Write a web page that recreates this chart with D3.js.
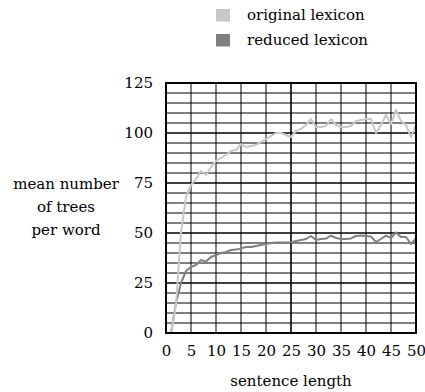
<!DOCTYPE html>
<html>
<head>
<meta charset="utf-8">
<script src="https://cdn.jsdelivr.net/npm/d3@7"></script>
<style>
  body { margin: 0; background: #fff; }
  svg text { font-family: "DejaVu Serif", serif; fill: #000; }
</style>
</head>
<body>
<svg id="chart" width="425" height="392"></svg>
<script>
// sentence length 1..50
const lengths = d3.range(1, 51);
const originalLexicon = [
  0, 14, 50, 68, 74, 77, 81, 79, 83, 86,
  87.5, 89, 91, 91.5, 94.5, 93, 93.5, 94, 95.5, 97,
  98.5, 100, 100, 99, 98, 101, 102, 104, 107, 103,
  103, 103.5, 107, 104, 103, 103, 103.5, 106, 106.5, 107,
  107, 100, 104, 109, 104.5, 111.5, 106, 104, 98, 104
];
const reducedLexicon = [
  0, 15, 25, 31, 33, 34, 36.5, 35.7, 38, 39,
  40, 40.5, 41.5, 41.7, 42.3, 43, 43, 43.5, 44, 44.5,
  45, 45.3, 45.3, 45.2, 45.3, 46, 46.5, 47, 48.5, 46.5,
  47, 47.2, 48.7, 47.5, 47, 47, 47.3, 48.5, 48.7, 48.5,
  48.2, 45.5, 47, 48.7, 47.5, 50.3, 48, 48, 44.5, 47.3
];
const seriesNames = ['original lexicon', 'reduced lexicon'];
const seriesColors = ['#c8c8c8', '#808080'];
const xTicks = d3.range(0, 51, 5);
const yTicks = [0, 25, 50, 75, 100, 125];
const yTitle = ['mean number', 'of trees', 'per word'];

const svg = d3.select('#chart');
const plot = {left: 166, right: 416, top: 83, bottom: 333};
const font = '"DejaVu Serif", serif';
const fontSize = '15px';

const x = d3.scaleLinear().domain([0, 50]).range([plot.left, plot.right]);
const y = d3.scaleLinear().domain([0, 125]).range([plot.bottom, plot.top]);

/* GRID */
const grid = svg.append('g').attr('class', 'grid');
grid.selectAll('line.h').data(d3.range(0, 126, 5)).enter()
  .append('line').attr('class', 'h')
  .attr('x1', plot.left).attr('x2', plot.right)
  .attr('y1', d => y(d)).attr('y2', d => y(d))
  .attr('stroke', '#000').attr('stroke-width', d => d % 25 === 0 ? 1.6 : 1);
grid.selectAll('line.v').data(xTicks).enter()
  .append('line').attr('class', 'v')
  .attr('y1', plot.top).attr('y2', plot.bottom)
  .attr('x1', d => x(d)).attr('x2', d => x(d))
  .attr('stroke', '#000').attr('stroke-width', d => d % 25 === 0 ? 1.6 : 1);

/* LINES */
const line = d3.line().x((d, i) => x(lengths[i])).y(d => y(d));
[reducedLexicon, originalLexicon].forEach((vals, k) => {
  svg.append('path').datum(vals)
    .attr('fill', 'none')
    .attr('stroke', k === 0 ? seriesColors[1] : seriesColors[0])
    .attr('stroke-width', 2)
    .attr('stroke-linejoin', 'round')
    .attr('d', line);
});

// frame
svg.append('rect')
  .attr('x', plot.left).attr('y', plot.top)
  .attr('width', plot.right - plot.left).attr('height', plot.bottom - plot.top)
  .attr('fill', 'none').attr('stroke', '#000').attr('stroke-width', 2);

/* AXES (labels only) */
const xAxis = d3.axisBottom(x).tickValues(xTicks).tickSize(0).tickPadding(12);
svg.append('g').attr('transform', `translate(0,${plot.bottom})`)
  .call(xAxis).attr('font-family', font).attr('font-size', fontSize)
  .call(g => g.select('.domain').remove());

const yAxis = d3.axisLeft(y).tickValues(yTicks).tickSize(0).tickPadding(13);
svg.append('g').attr('transform', `translate(${plot.left},0)`)
  .call(yAxis).attr('font-family', font).attr('font-size', fontSize)
  .call(g => g.select('.domain').remove());

// axis titles
svg.append('text')
  .attr('x', x(25)).attr('y', 386)
  .attr('text-anchor', 'middle')
  .style('font-size', fontSize)
  .text('sentence length');

svg.append('g').selectAll('text').data(yTitle).enter()
  .append('text')
  .attr('x', 66).attr('y', (d, i) => 189 + i * 23)
  .attr('text-anchor', 'middle')
  .style('font-size', fontSize)
  .text(d => d);

/* LEGEND */
const legend = svg.append('g').selectAll('g').data(seriesNames).enter()
  .append('g').attr('transform', (d, i) => `translate(216,${9 + i * 25})`);
legend.append('rect').attr('width', 14).attr('height', 12.5)
  .attr('fill', (d, i) => seriesColors[i]);
legend.append('text').attr('x', 31).attr('y', 11)
  .style('font-size', fontSize)
  .text(d => d);
</script>
</body>
</html>
